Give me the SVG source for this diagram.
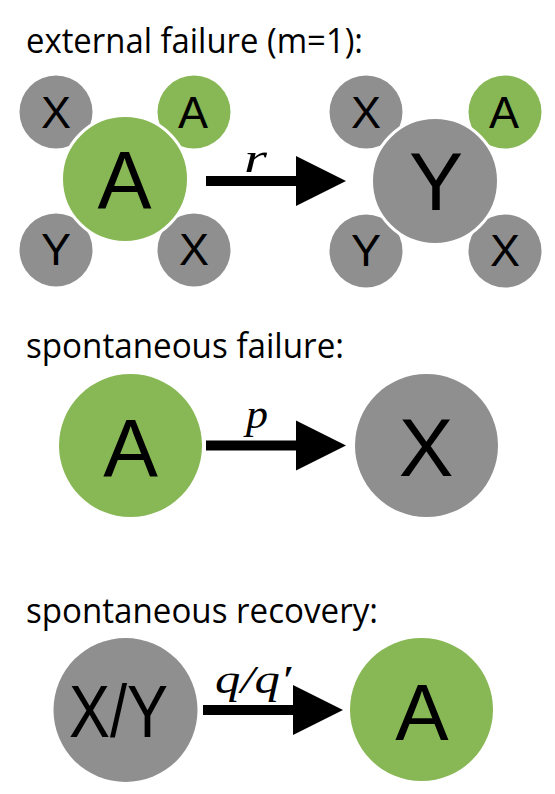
<svg xmlns="http://www.w3.org/2000/svg" width="555" height="794" viewBox="0 0 555 794">
  <style>
    .g { fill: #88b755; }
    .k { fill: #8f8f8f; }
    .big { stroke: #ffffff; stroke-width: 3; }
    .lbl { font-family: "Liberation Sans", Arial, sans-serif; fill: #000; text-anchor: middle; }
    .s { font-size: 45px; }
    .l { font-size: 81px; }
    .h { font-family: "Open Sans", "Noto Sans", sans-serif; font-size: 35px; fill: #000; }
    .m { font-family: "Liberation Serif", "Times New Roman", serif; font-style: italic; font-size: 40px; fill: #000; }
  </style>
  <defs>
    <path id="arrow" d="M0,-5 H90 V-25 L140,0 L90,25 V5 H0 Z" fill="#000"/>
  </defs>
  <rect width="555" height="794" fill="#ffffff"/>

  <text class="h" x="26" y="53" textLength="337" lengthAdjust="spacingAndGlyphs">external failure (m=1):</text>
  <text class="h" x="26" y="358" textLength="318" lengthAdjust="spacingAndGlyphs">spontaneous failure:</text>
  <text class="h" x="26" y="623" textLength="352" lengthAdjust="spacingAndGlyphs">spontaneous recovery:</text>

  <g id="connectors">
    <use href="#arrow" transform="translate(206,181)"/>
    <use href="#arrow" transform="translate(206,445.5)"/>
    <use href="#arrow" transform="translate(203,710)"/>
    <text class="m" x="244" y="172" textLength="23" lengthAdjust="spacingAndGlyphs">r</text>
    <text class="m" x="246" y="428" textLength="22" lengthAdjust="spacingAndGlyphs">p</text>
    <text class="m" x="215" y="693" textLength="76" lengthAdjust="spacingAndGlyphs">q/q′</text>
  </g>

  <g id="left-cluster">
    <g id="l-x1"><circle class="k" cx="56" cy="112" r="36.5"/><text class="lbl s" x="56" y="128">X</text></g>
    <g id="l-a1"><circle class="g" cx="194" cy="112" r="36.5"/><text class="lbl s" x="193" y="128">A</text></g>
    <g id="l-y1"><circle class="k" cx="56" cy="250" r="36.5"/><text class="lbl s" x="56" y="265">Y</text></g>
    <g id="l-x2"><circle class="k" cx="194" cy="250" r="36.5"/><text class="lbl s" x="194" y="265">X</text></g>
    <g id="l-center"><circle class="g big" cx="125" cy="179" r="63.5"/><text class="lbl l" x="124.5" y="208">A</text></g>
  </g>

  <g id="right-cluster">
    <g id="r-x1"><circle class="k" cx="366" cy="112" r="36.5"/><text class="lbl s" x="366" y="128">X</text></g>
    <g id="r-a1"><circle class="g" cx="505" cy="112" r="36.5"/><text class="lbl s" x="504" y="128">A</text></g>
    <g id="r-y1"><circle class="k" cx="366" cy="251" r="36.5"/><text class="lbl s" x="366" y="266">Y</text></g>
    <g id="r-x2"><circle class="k" cx="505" cy="251" r="36.5"/><text class="lbl s" x="505" y="266">X</text></g>
    <g id="r-center"><circle class="k big" cx="435" cy="181" r="63.5"/><text class="lbl l" x="436" y="210">Y</text></g>
  </g>

  <g id="fail-a"><circle class="g" cx="130.5" cy="445.5" r="71.5"/><text class="lbl" style="font-size:82px" x="130.5" y="476">A</text></g>
  <g id="fail-x"><circle class="k" cx="426.5" cy="445.5" r="71.5"/><text class="lbl" style="font-size:82px" x="426" y="476">X</text></g>

  <g id="rec-xy"><circle class="k" cx="125.5" cy="710" r="72"/><text class="lbl" style="font-size:75px" x="118.5" y="737" textLength="99" lengthAdjust="spacingAndGlyphs">X/Y</text></g>
  <g id="rec-a"><circle class="g" cx="421.5" cy="709.5" r="71.5"/><text class="lbl" style="font-size:80px" x="422" y="740">A</text></g>
</svg>
